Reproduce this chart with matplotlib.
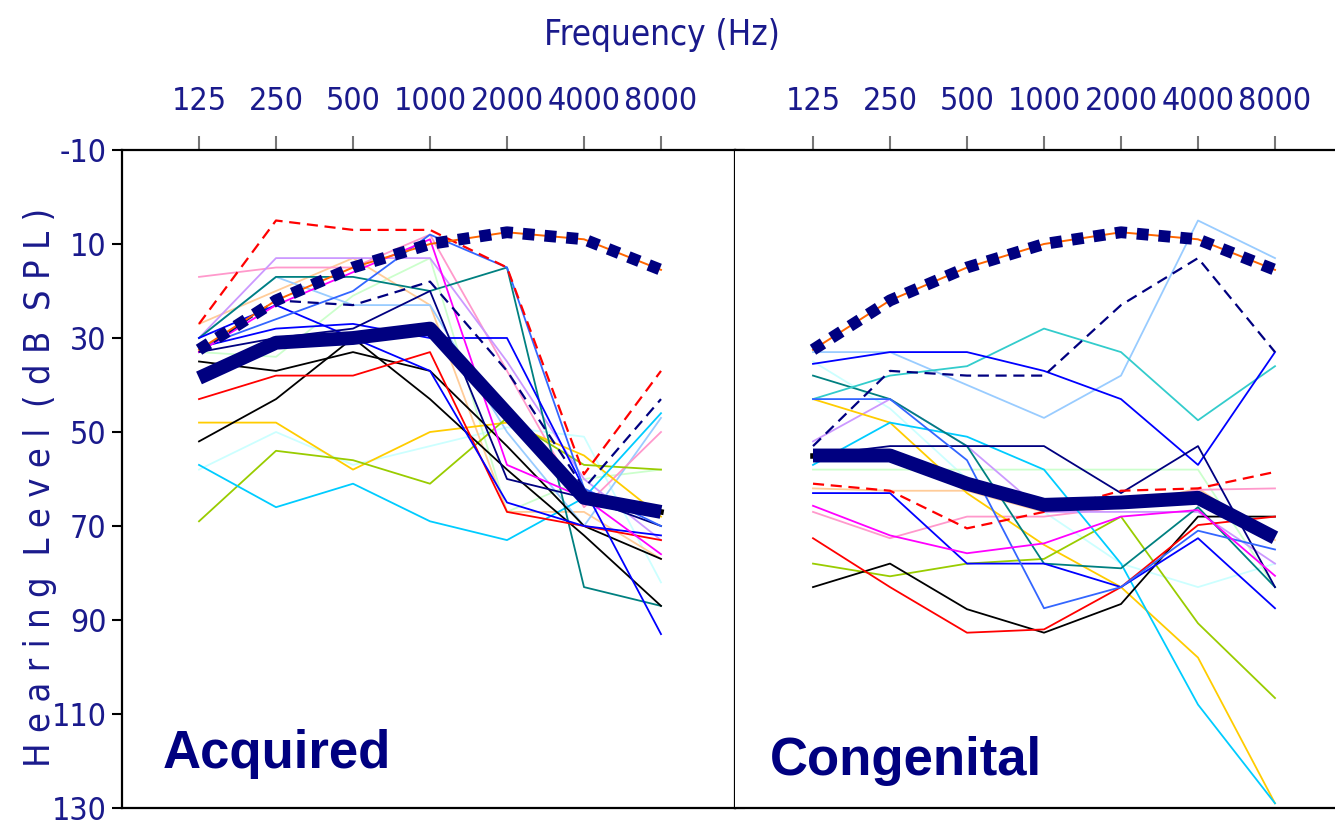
import matplotlib.pyplot as plt
from matplotlib import font_manager

# Frequencies (Hz) shown as categories along the top
freqs = ["125", "250", "500", "1000", "2000", "4000", "8000"]
yticks = [-10, 10, 30, 50, 70, 90, 110, 130]

# normal-hearing reference curve and group means (dB SPL)
normal = [32.5, 22, 15, 10, 7.5, 9, 15.5]
acq_mean = [38.5, 31, 30, 28, 46, 64, 67]
con_mean = [55, 55, 61, 65.5, 65, 64, 72.5]

# Acquired - individual ears
acq_red_dash = [27, 5, 7, 7, 15, 59, 37]
acq_navy_dash = [33, 22, 23, 18, 37, 62, 43]
acq_pink = [17, 15, 15, 8, 37, 66, 50]
acq_lavender = [30, 13, 13, 13, 35, 60, 73]
acq_teal = [30, 17, 17, 20, 15, 83, 87]
acq_cornflower = [32, 26, 20, 8, 15, 62, 70]
acq_magenta = [33, 23, 16, 9, 57, 64, 76]
acq_palegreen = [33, 34, 21, 13, 67, 60, 58]
acq_peach = [27, 20, 13, 23, 67, 67, 77]
acq_lightblue = [30, 17, 23, 23, 50, 70, 47]
acq_gold = [48, 48, 58, 50, 48, 55, 68]
acq_yellowgreen = [69, 54, 56, 61, 47, 57, 58]
acq_skyblue = [57, 66, 61, 69, 73, 64, 46]
acq_palecyan = [58, 50, 57, 53, 49, 51, 82]
acq_black1 = [35, 37, 33, 37, 53, 70, 77]
acq_black2 = [52, 43, 30, 43, 58, 72, 87]
acq_red = [43, 38, 38, 33, 67, 70, 73]
acq_blue1 = [32, 28, 27, 30, 30, 62, 93]
acq_blue2 = [30, 23, 30, 37, 65, 70, 72]
acq_navy = [33, 30, 28, 20, 60, 64, 70]

# Congenital - individual ears
con_lightblue = [33, 33, 40, 47, 38, 5, 13]
con_blue1 = [35.5, 33, 33, 37, 43, 57, 33]
con_navy_dash = [53, 37, 38, 38, 23, 13, 33]
con_turquoise = [43, 38, 36, 28, 33, 47.5, 36]
con_teal = [38, 43, 53, 78, 79, 66, 83]
con_lavender = [52, 43, 53, 67, 67, 67, 78]
con_gold = [43, 48, 63, 74, 83, 98, 129]
con_skyblue = [57, 48, 51, 58, 78, 108, 129]
con_navy = [55, 53, 53, 53, 63, 53, 83]
con_palegreen = [58, 58, 58, 58, 58, 58, 83]
con_red_dash = [61, 62.5, 70.5, 67, 62.5, 62, 58.5]
con_peach = [62, 62.5, 62.5, 67, 66, 62, 73]
con_blue2 = [63, 63, 78, 78, 83, 72.6, 87.5]
con_cornflower = [43, 43, 56, 87.5, 83, 71, 75]
con_magenta = [65.7, 72, 75.8, 73.7, 68, 66.6, 80.6]
con_pink = [67, 72.6, 68, 68, 66, 62.3, 62]
con_yellowgreen = [78, 80.7, 78, 77, 68, 90.7, 106.6]
con_red = [72.6, 83, 92.7, 92, 83, 69.8, 68]
con_black = [83, 78, 87.7, 92.7, 86.6, 68, 68]
con_palecyan = [35, 45, 60, 67, 78, 83, 78]

NAVY = "#000080"
TXT = "#1a1a8c"

plt.rcParams["axes.unicode_minus"] = False
# condensed face for the thin axis lettering, if one is installed
cond = font_manager.FontProperties(family="DejaVu Sans", stretch="condensed")
cond_file = font_manager.findfont(cond)
narrow = font_manager.FontProperties(fname=cond_file)
is_cond = "Condensed" in cond_file
tick_fs = 23 if is_cond else 18

acq_lines = [
    (acq_palecyan, "#ccffff", "-"), (acq_palegreen, "#ccffcc", "-"),
    (acq_peach, "#ffcc99", "-"), (acq_lightblue, "#99ccff", "-"),
    (acq_pink, "#ff99cc", "-"), (acq_lavender, "#cc99ff", "-"),
    (acq_gold, "#ffcc00", "-"), (acq_yellowgreen, "#99cc00", "-"),
    (acq_skyblue, "#00ccff", "-"), (acq_teal, "#008080", "-"),
    (acq_black1, "black", "-"), (acq_black2, "black", "-"),
    (acq_red, "#ff0000", "-"), (acq_blue1, "#0000ff", "-"),
    (acq_blue2, "#0000ff", "-"), (acq_navy, NAVY, "-"),
    (acq_cornflower, "#3366ff", "-"), (acq_magenta, "#ff00ff", "-"),
    (acq_navy_dash, NAVY, "--"), (acq_red_dash, "#ff0000", "--"),
]
con_lines = [
    (con_palecyan, "#ccffff", "-"), (con_palegreen, "#ccffcc", "-"),
    (con_peach, "#ffcc99", "-"), (con_lightblue, "#99ccff", "-"),
    (con_pink, "#ff99cc", "-"), (con_lavender, "#cc99ff", "-"),
    (con_gold, "#ffcc00", "-"), (con_yellowgreen, "#99cc00", "-"),
    (con_skyblue, "#00ccff", "-"), (con_teal, "#008080", "-"),
    (con_turquoise, "#33cccc", "-"), (con_black, "black", "-"),
    (con_red, "#ff0000", "-"), (con_blue1, "#0000ff", "-"),
    (con_blue2, "#0000ff", "-"), (con_navy, NAVY, "-"),
    (con_cornflower, "#3366ff", "-"), (con_magenta, "#ff00ff", "-"),
    (con_navy_dash, NAVY, "--"), (con_red_dash, "#ff0000", "--"),
]

fig = plt.figure(figsize=(13.35, 8.24), dpi=100)
W, H = 1335, 824
ax1 = fig.add_axes([122 / W, 1 - 808 / H, (735 - 122) / W, 658 / H])
ax2 = fig.add_axes([735 / W, 1 - 808 / H, (1335 - 735) / W, 658 / H])

x = list(range(len(freqs)))
panels = [(ax1, acq_lines, acq_mean, "Acquired", 0.067, 0.061),
          (ax2, con_lines, con_mean, "Congenital", 0.058, 0.05)]
for ax, lines, mean, label, tx, ty in panels:
    for vals, col, ls in lines:
        ax.plot(x, vals, color=col, ls=ls, lw=1.3 if ls == "-" else 1.6,
                dashes=(5, 3) if ls == "--" else (None, None))
    ax.plot(x, normal, color="#ff6600", lw=1.4, zorder=5)
    ax.plot(x, normal, color=NAVY, lw=8.5, ls=(0, (1, 0.85)), zorder=6)
    # black end stub peeking out of the thick mean line
    if ax is ax1:
        ax.plot(x[-2:], mean[-2:], color="black", lw=4, zorder=7)
    else:
        ax.plot(x[:2], mean[:2], color="black", lw=4, zorder=7)
    ax.plot(x, mean, color=NAVY, lw=10, zorder=8, solid_capstyle="butt")
    ax.set_ylim(130, -10)
    ax.set_yticks(yticks)
    ax.set_xticks(x)
    ax.set_xticklabels(freqs, fontproperties=narrow, fontsize=tick_fs)
    ax.xaxis.tick_top()
    ax.tick_params(axis="x", direction="out", length=10, width=1.5,
                   color="#777777", pad=14, labelcolor=TXT)
    for s in ax.spines.values():
        s.set_linewidth(1.6)
    ax.text(tx, ty, label, transform=ax.transAxes,
            fontsize=38, fontweight="bold", color=NAVY, family="Liberation Sans")

ax1.set_xlim((122 - 199) / 77, (735 - 199) / 77)
ax2.set_xlim((735 - 813) / 77, (1335 - 813) / 77)
ax1.set_yticklabels([str(v) for v in yticks], fontproperties=narrow, fontsize=tick_fs)
ax1.tick_params(axis="y", direction="out", length=7, width=1.5, right=True,
                pad=4, labelcolor=TXT)
ax2.tick_params(axis="y", left=False, labelleft=False)
ax2.spines["left"].set_visible(False)
ax2.spines["right"].set_visible(False)

fig.text(662 / W, 1 - 35 / H, "Frequency (Hz)", ha="center", va="center",
         fontproperties=narrow, fontsize=25 if is_cond else 22, color=TXT)
fig.text(40 / W, 1 - 487 / H, "H e a r i n g  L e v e l  ( d B  S P L )",
         ha="center", va="center", rotation=90, fontproperties=narrow,
         fontsize=26 if is_cond else 22, color=TXT)

fig.savefig("out.png", dpi=100)
